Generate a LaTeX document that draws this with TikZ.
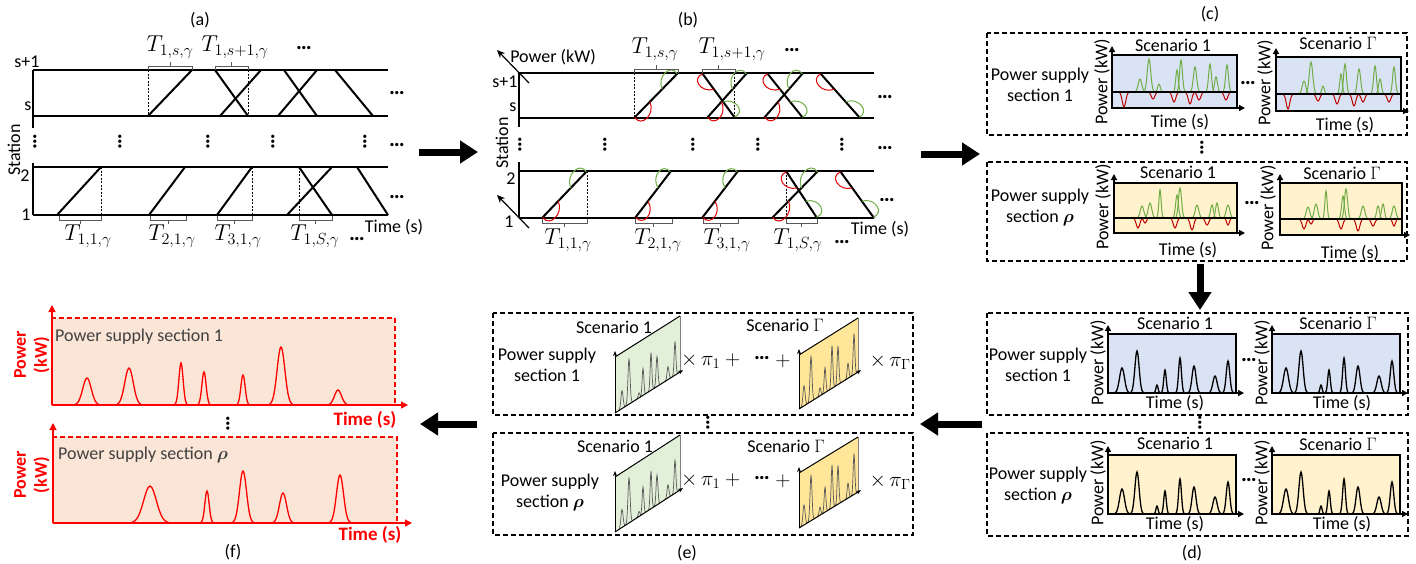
\RequirePackage{fix-cm}
\documentclass[tikz,border=0pt]{standalone}
\usepackage{amsmath,amssymb}
\usepackage{fontspec}
\setmainfont{Carlito}
\usetikzlibrary{arrows.meta,calc}
\definecolor{gr}{HTML}{70AD47}
\definecolor{rd}{HTML}{E00000}
\definecolor{crd}{HTML}{C00000}
\definecolor{fblue}{HTML}{DAE3F3}
\definecolor{fyel}{HTML}{FFF2CC}
\definecolor{fgreen}{HTML}{E2F0D9}
\definecolor{fgold}{HTML}{FFE699}
\definecolor{forange}{HTML}{FBE5D6}
\definecolor{dgray}{HTML}{404040}
% peaks: style, x0, base, list c/w/h
\newcommand\pks[4]{\foreach \pc/\pw/\ph in {#4}{\draw[#1] plot[domain=-2.5:2.5,samples=25,smooth] ({#2+\pc+(\x)*\pw},{#3-(\ph)*exp(-((\x)^2))});}}
% chart frame
\newcommand\chartbox[5]{%
 \fill[#5] (#1,#2) rectangle (#3,#4);
 \draw[line width=1.3pt] (#1,#2) rectangle (#3,#4);
 \draw[axarr] (#1,#4) -- (#1,#2-9);
 \draw[axarr] (#1,#4) -- (#3+8,#4);}
% bracket above / below
\newcommand\brup[3]{\draw[brk] (#1,#3+4) -- (#1,#3) -- (#2,#3) -- (#2,#3+4); \draw[brk] ({(#1+#2)/2},#3) -- ({(#1+#2)/2},#3-4);}
\newcommand\brdn[3]{\draw[brk] (#1,#3-4) -- (#1,#3) -- (#2,#3) -- (#2,#3-4); \draw[brk] ({(#1+#2)/2},#3) -- ({(#1+#2)/2},#3+4);}
% train line with power lobes
\newcommand\trb[4]{%
 \draw[trn] (#1,#2) -- (#3,#4);
 \pgfmathsetmacro\tang{atan2(#2-#4,#3-#1)}%
 \pgfmathsetmacro\tlen{veclen(#3-#1,#4-#2)}%
 \begin{scope}[shift={(#1,#2)},rotate=\tang]
  \draw[rd,line width=1pt] (1,0) .. controls (-2,12) and (0.28*\tlen,13) .. (0.36*\tlen,0);
  \draw[gr,line width=1pt] (0.64*\tlen,0) .. controls (0.72*\tlen,-13) and (\tlen+2,-12) .. (\tlen-1,0);
 \end{scope}}
% skewed chart for (e)
\newcommand\skc[7]{%
 \fill[#6] (#1,#2) -- (#1+#3,#2-#4) -- (#1+#3,#2-#4-#5) -- (#1,#2-#5) -- cycle;
 \draw[black!50,line width=0.6pt] (#1+#3,#2-#4) -- (#1+#3,#2-#4-#5);
 \draw[line width=1pt] (#1,#2-#5) -- (#1+#3,#2-#4-#5);
 \foreach \pc/\pw/\ph in {#7}{\draw[black!65,line width=0.7pt] plot[domain=-2.5:2.5,samples=21,smooth] ({#1+\pc+(\x)*\pw},{#2-(\pc+(\x)*\pw)*#4/#3-(\ph)*exp(-((\x)^2))});}
 \draw[line width=1pt,-{Stealth[length=5pt,width=4pt]}] (#1,#2) -- (#1,#2-#5-6);
 \draw[line width=1pt,-{Stealth[length=5pt,width=4pt]}] (#1,#2) -- (#1+#3+3,{#2-#4*(#3+3)/#3});}
\begin{document}
\begin{tikzpicture}[x=1pt,y=-1pt,
 every node/.style={font=\fontsize{18}{21}\selectfont,inner sep=0pt},
 hl/.style={line width=1.5pt},
 trn/.style={line width=2pt},
 dsh/.style={line width=0.7pt,dash pattern=on 2pt off 1.5pt},
 brk/.style={line width=0.8pt,black!65},
 boxd/.style={line width=1.2pt,dash pattern=on 5pt off 3pt},
 big/.style={line width=7pt,-{Triangle[length=18pt,width=22pt]}},
 axarr/.style={line width=1.3pt,-{Triangle[length=6pt,width=6pt]}},
 ml/.style={font=\fontsize{23}{26}\selectfont},
 mle/.style={font=\fontsize{21}{24}\selectfont},
 dts/.style={font=\fontsize{22}{24}\selectfont\bfseries},
 vdts/.style={font=\fontsize{22}{24}\selectfont\bfseries,rotate=90},
 rot/.style={rotate=90}]
\useasboundingbox (0,0) rectangle (1416,563);
% ================= (a)
\node (la) at (200,20) {(a)};
\foreach \yy in {70,116,167,215} \draw[hl] (33,\yy) -- (388,\yy);
\draw[hl] (33,70) -- (33,128);
\draw[hl] (33,163) -- (33,215);
\node at (27,62) {s+1};
\node at (28,106) {s};
\node at (25,176) {2};
\node at (26,215) {1};
\node[rot] at (14,150) {Station};
\node at (394,227) {Time (s)};
% top band
\draw[trn] (148,116) -- (192,70);
\draw[dsh] (148,70) -- (148,116);
\draw[trn] (215,70) -- (248,116);
\draw[trn] (220,116) -- (261,70);
\draw[dsh] (248,70) -- (248,116);
\draw[trn] (284,70) -- (317,116);
\draw[trn] (278,116) -- (317,70);
\draw[trn] (335,70) -- (373,116);
\brup{148}{192}{66}
\brup{215}{248}{66}
\node[ml] at (170,47) {$T_{1,s,\gamma}$};
\node[ml] at (235,47) {$T_{1,s+1,\gamma}$};
\node[dts] at (304,48) {…};
% bottom band
\draw[trn] (57,215) -- (101,167);
\draw[dsh] (101,167) -- (101,215);
\draw[trn] (149,215) -- (185,167);
\draw[trn] (217,215) -- (252,167);
\draw[dsh] (252,167) -- (252,215);
\draw[trn] (299,167) -- (332,215);
\draw[trn] (287,215) -- (332,167);
\draw[dsh] (299,167) -- (299,215);
\draw[trn] (357,167) -- (388,215);
\brdn{59}{101}{220}
\brdn{150}{186}{220}
\brdn{217}{252}{220}
\brdn{299}{332}{220}
\node[ml] at (88,236) {$T_{1,1,\gamma}$};
\node[ml] at (172,236) {$T_{2,1,\gamma}$};
\node[ml] at (238,236) {$T_{3,1,\gamma}$};
\node[ml] at (315,236) {$T_{1,S,\gamma}$};
\node[dts] at (357,239) {…};
\foreach \xx in {35,120,208,273,365} \node[vdts] at (\xx,142) {…};
\foreach \yy in {93,145,197} \node[dts] at (397,\yy) {…};
% ================= (b)
\node (lb) at (688,20) {(b)};
\foreach \yy in {73,118,171,218} \draw[hl] (519,\yy) -- (874,\yy);
\draw[hl] (519,73) -- (519,127);
\draw[hl] (519,162) -- (519,218);
\draw[line width=1.2pt,-{Stealth[length=8pt,width=7pt]}] (529,83) -- (497,50);
\draw[line width=1.2pt,-{Stealth[length=8pt,width=7pt]}] (529,228) -- (497,195);
\node at (553,57) {Power (kW)};
\node at (505,82) {s+1};
\node at (513,107) {s};
\node at (511,179) {2};
\node at (509,222) {1};
\node[rot] at (502,143) {Station};
\node at (880,229) {Time (s)};
\draw[dsh] (634,73) -- (634,118);
\draw[dsh] (734,73) -- (734,118);
\draw[dsh] (587,171) -- (587,218);
\draw[dsh] (786,171) -- (786,218);
\trb{634}{118}{678}{73}
\trb{702}{73}{735}{118}
\trb{707}{118}{747}{73}
\trb{767}{73}{803}{118}
\trb{764}{118}{803}{73}
\trb{820}{73}{860}{118}
\trb{542}{218}{587}{171}
\trb{635}{218}{671}{171}
\trb{702}{218}{738}{171}
\trb{786}{171}{817}{218}
\trb{772}{218}{818}{171}
\trb{840}{171}{874}{218}
\brup{634}{678}{69}
\brup{702}{735}{69}
\brdn{542}{587}{223}
\brdn{635}{672}{223}
\brdn{703}{738}{223}
\brdn{786}{817}{223}
\node[ml] at (655,49) {$T_{1,s,\gamma}$};
\node[ml] at (732,49) {$T_{1,s+1,\gamma}$};
\node[dts] at (792,50) {…};
\node[ml] at (568,240) {$T_{1,1,\gamma}$};
\node[ml] at (658,240) {$T_{2,1,\gamma}$};
\node[ml] at (727,240) {$T_{3,1,\gamma}$};
\node[ml] at (798,240) {$T_{1,S,\gamma}$};
\node[dts] at (842,242) {…};
\foreach \xx in {520,605,693,758,842} \node[vdts] at (\xx,145) {…};
\node[dts] at (885,97) {…};
\node[dts] at (885,148) {…};
\node[dts] at (887,200) {…};
% ================= (c)
\node (lc) at (1210,14) {(c)};
\draw[boxd] (987,33) rectangle (1407,135);
\draw[boxd] (987,162) rectangle (1407,261);
\node[vdts] at (1202,148) {…};
\node[align=center] at (1040,85) {Power supply\\section 1};
\node[align=center] at (1040,207) {Power supply\\section $\boldsymbol{\rho}$};
\chartbox{1112}{55}{1237}{108}{fblue}
\pks{gr,line width=1pt}{1112}{92}{28/2.5/13,37/2.5/33,47/1.8/8,65/1.8/22,69/2/32,83/2.3/25,98/2/28,104/2/15,115/2/27}
\pks{crd,line width=1pt}{1112}{92}{12/2.5/-15,41/2.5/-7,62/2.5/-10,78/2.5/-12,87/2.5/-8,114/2.5/-8}
\draw[line width=1.3pt] (1112,92) -- (1237,92);
\chartbox{1276}{57}{1401}{111}{fblue}
\pks{gr,line width=1pt}{1276}{94}{28/2.5/13,35/2.5/32,47/1.8/8,65/1.8/20,69/2/30,83/2.3/25,99/2/28,104/2/15,118/2/27}
\pks{crd,line width=1pt}{1276}{94}{12/2.5/-15,42/2.5/-7,61/2.5/-10,78/2.5/-12,87/2.5/-8,113/2.5/-8}
\draw[line width=1.3pt] (1276,94) -- (1401,94);
\chartbox{1114}{183}{1237}{233}{fyel}
\pks{gr,line width=1pt}{1114}{218}{28/2.5/12,36/2.5/15,46/1.6/28,63/2/23,66/2.2/30,83/2.5/13,98/2/13,103/2/15,114/2.5/13}
\pks{crd,line width=1pt}{1114}{218}{24/2.5/-10,31/2/-5,61/2.5/-10,78/2.5/-12,93/2.5/-7,114/2/-7}
\draw[line width=1.3pt] (1114,218) -- (1237,218);
\chartbox{1280}{183}{1402}{235}{fyel}
\pks{gr,line width=1pt}{1280}{219}{28/2.5/12,36/2.5/15,46/1.6/28,63/2/23,66/2.2/30,83/2.5/13,98/2/13,103/2/15,114/2.5/13}
\pks{crd,line width=1pt}{1280}{219}{24/2.5/-10,31/2/-5,61/2.5/-10,78/2.5/-12,93/2.5/-7,114/2/-7}
\draw[line width=1.3pt] (1280,219) -- (1402,219);
\node at (1173,45) {Scenario 1};
\node at (1338,43) {Scenario $\Gamma$};
\node at (1178,172) {Scenario 1};
\node at (1342,173) {Scenario $\Gamma$};
\node[rot] at (1102,82) {Power (kW)};
\node[rot] at (1265,83) {Power (kW)};
\node[rot] at (1103,207) {Power (kW)};
\node[rot] at (1268,208) {Power (kW)};
\node at (1180,122) {Time (s)};
\node at (1345,125) {Time (s)};
\node at (1188,250) {Time (s)};
\node at (1350,253) {Time (s)};
\node[dts] at (1248,83) {…};
\node[dts] at (1252,203) {…};
% ================= (d)
\node (ld) at (1192,553) {(d)};
\draw[boxd] (987,313) rectangle (1408,415);
\draw[boxd] (987,433) rectangle (1408,536);
\node[vdts] at (1200,423) {…};
\node[align=center] at (1038,365) {Power supply\\section 1};
\node[align=center] at (1038,485) {Power supply\\section $\boldsymbol{\rho}$};
\foreach \cx/\cy/\cf in {1108/334/fblue,1272/334/fblue,1108/455/fyel,1272/455/fyel}{
 \chartbox{\cx}{\cy}{\cx+128}{\cy+59}{\cf}
 \pks{black,line width=1.3pt}{\cx}{\cy+59}{14/3.5/25,29/3/42,49/1.5/8,57/1.8/23,72/2/35,86/2.8/27,107/3/17,120/2.5/32}
}
\node at (1175,323) {Scenario 1};
\node at (1338,323) {Scenario $\Gamma$};
\node at (1175,443) {Scenario 1};
\node at (1338,444) {Scenario $\Gamma$};
\node[rot] at (1098,363) {Power (kW)};
\node[rot] at (1262,363) {Power (kW)};
\node[rot] at (1098,483) {Power (kW)};
\node[rot] at (1262,483) {Power (kW)};
\node at (1175,403) {Time (s)};
\node at (1342,403) {Time (s)};
\node at (1175,524) {Time (s)};
\node at (1342,524) {Time (s)};
\node[dts] at (1249,360) {…};
\node[dts] at (1249,480) {…};
% ================= (e)
\node (le) at (687,553) {(e)};
\draw[boxd] (493,313) rectangle (913,415);
\draw[boxd] (493,433) rectangle (913,535);
\node[vdts] at (708,423) {…};
\node[align=center] at (547,365) {Power supply\\section 1};
\node[align=center] at (550,492) {Power supply\\section $\boldsymbol{\rho}$};
\skc{615}{413}{65}{41}{56}{fgreen}{7/1.5/18,14/1.5/45,24/1.2/5,28/1.2/27,36/1.2/37,42/1.3/30,53/1.3/13,60/1.2/33}
\skc{799}{409}{59}{37}{54}{fgold}{5/1.5/20,12/1.4/45,21/1.2/8,26/1.2/25,33/1.2/42,39/1.2/38,49/1.2/15,55/1.2/40}
\skc{615}{532}{65}{42}{55}{fgreen}{7/1.5/18,14/1.5/45,24/1.2/5,28/1.2/27,36/1.2/37,42/1.3/30,53/1.3/13,60/1.2/33}
\skc{799}{528}{59}{36}{55}{fgold}{5/1.5/20,12/1.4/45,21/1.2/8,26/1.2/25,33/1.2/42,39/1.2/38,49/1.2/15,55/1.2/40}
\node at (614,327) {Scenario 1};
\node at (785,325) {Scenario $\Gamma$};
\node at (615,446) {Scenario 1};
\node at (786,446) {Scenario $\Gamma$};
\node[mle] at (713,361) {$\times\,\pi_1 +{}$};
\node[dts] at (762,358) {…};
\node[mle] at (783,361) {$+$};
\node[mle] at (890,362) {$\times\,\pi_\Gamma$};
\node[mle] at (713,481) {$\times\,\pi_1 +{}$};
\node[dts] at (762,478) {…};
\node[mle] at (783,481) {$+$};
\node[mle] at (890,482) {$\times\,\pi_\Gamma$};
% ================= (f)
\node (lf) at (233,552) {(f)};
\fill[forange] (52,318) rectangle (395,405);
\draw[red,line width=1.2pt,dash pattern=on 5pt off 3pt] (52,318) rectangle (395,405);
\draw[red,line width=1.3pt,-{Triangle[length=7pt,width=7pt]}] (52,405) -- (52,305);
\draw[red,line width=1.3pt,-{Triangle[length=7pt,width=7pt]}] (52,405) -- (408,405);
\fill[forange] (53,437) rectangle (397,523);
\draw[red,line width=1.2pt,dash pattern=on 5pt off 3pt] (53,437) rectangle (397,523);
\draw[red,line width=1.3pt,-{Triangle[length=7pt,width=7pt]}] (53,523) -- (53,423);
\draw[red,line width=1.3pt,-{Triangle[length=7pt,width=7pt]}] (53,523) -- (412,523);
\pks{red,line width=1.3pt}{0}{405}{87/6/27,129/6/37,181/3/42,204/3/33,243/3/30,281/5.5/58,338/5/15}
\pks{red,line width=1.3pt}{0}{523}{150/9/37,207/3/32,243/5/52,283/5/30,340/5/48}
\node[anchor=west,text=dgray] at (55,337) {Power supply section 1};
\node[anchor=west,text=dgray] at (58,455) {Power supply section $\boldsymbol{\rho}$};
\node[rot,align=center,text=red,font=\fontsize{18}{21}\selectfont\bfseries] at (32,355) {Power\\(kW)};
\node[rot,align=center,text=red,font=\fontsize{18}{21}\selectfont\bfseries] at (32,475) {Power\\(kW)};
\node[text=red,font=\fontsize{19}{21}\selectfont\bfseries] at (365,420) {Time (s)};
\node[text=red,font=\fontsize{19}{21}\selectfont\bfseries] at (370,535) {Time (s)};
\node[vdts] at (228,424) {…};
% ================= big arrows
\coordinate (ab1) at (419,152); \coordinate (ab2) at (478,152);
\coordinate (bc1) at (921,154); \coordinate (bc2) at (980,154);
\coordinate (cd1) at (1200,264); \coordinate (cd2) at (1200,310);
\coordinate (de1) at (982,424); \coordinate (de2) at (920,424);
\coordinate (ef1) at (477,424); \coordinate (ef2) at (420,424);
\draw[big] (ab1) -- (ab2);
\draw[big] (bc1) -- (bc2);
\draw[big] (cd1) -- (cd2);
\draw[big] (de1) -- (de2);
\draw[big] (ef1) -- (ef2);
\end{tikzpicture}
\end{document}
